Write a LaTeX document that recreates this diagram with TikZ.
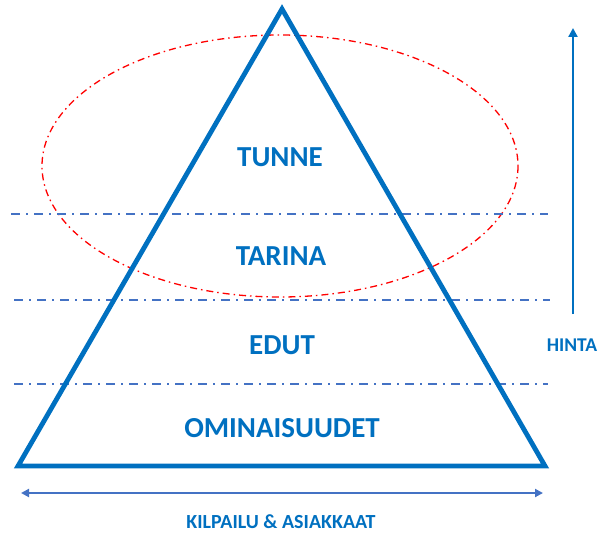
\documentclass[tikz,border=0pt]{standalone}
\usepackage{fontspec}
\setmainfont{Carlito}
\usetikzlibrary{arrows.meta}
\definecolor{tblue}{HTML}{0070C0}
\definecolor{lblue}{HTML}{4472C4}
\definecolor{ered}{HTML}{FF0000}
\tikzset{
  lvl/.style={draw=lblue, line width=1.6pt, dash pattern=on 9pt off 6pt on 2pt off 6pt},
  lbl/.style={text=tblue, font=\bfseries\fontsize{29}{34}\selectfont, inner sep=0pt},
  small/.style={text=tblue, font=\bfseries\fontsize{20}{24}\selectfont, inner sep=0pt},
}
\begin{document}
\begin{tikzpicture}[x=1pt,y=-1pt]
\useasboundingbox (0,0) rectangle (601,535);
% ellipse
\draw[ered, line width=1.3pt, dash pattern=on 7pt off 4pt on 1.5pt off 4pt] (280,166) ellipse [x radius=238, y radius=131];
% level lines
\coordinate (l1a) at (11,214); \coordinate (l1b) at (548,214);
\coordinate (l2a) at (14,300); \coordinate (l2b) at (550,300);
\coordinate (l3a) at (14,384); \coordinate (l3b) at (548,384);
\draw[lvl] (l1a) -- (l1b);
\draw[lvl] (l2a) -- (l2b);
\draw[lvl] (l3a) -- (l3b);
% triangle
\coordinate (apex) at (282,9);
\coordinate (bl) at (18,466);
\coordinate (br) at (545,466);
\draw[tblue, line width=4.8pt, line join=miter] (apex) -- (br) -- (bl) -- cycle;
% labels
\node[lbl] (tunne) at (280,157) {TUNNE};
\node[lbl] (tarina) at (281,256) {TARINA};
\node[lbl] (edut) at (282,345) {EDUT};
\node[lbl] (omin) at (282,428) {OMINAISUUDET};
% vertical arrow
\coordinate (vb) at (573,314);
\coordinate (vt) at (573,28);
\draw[tblue, line width=2.2pt, -{Triangle[length=9pt,width=9pt]}] (vb) -- (vt);
\node[small, font=\bfseries\fontsize{19.5}{23}\selectfont] (hinta) at (572,345) {HINTA};
% horizontal arrow
\coordinate (ha) at (21,493);
\coordinate (hb) at (543,493);
\draw[lblue, line width=2pt, {Triangle[length=8pt,width=8pt]}-{Triangle[length=8pt,width=8pt]}] (ha) -- (hb);
\node[small] (kilp) at (281,522) {KILPAILU \& ASIAKKAAT};
\end{tikzpicture}
\end{document}
